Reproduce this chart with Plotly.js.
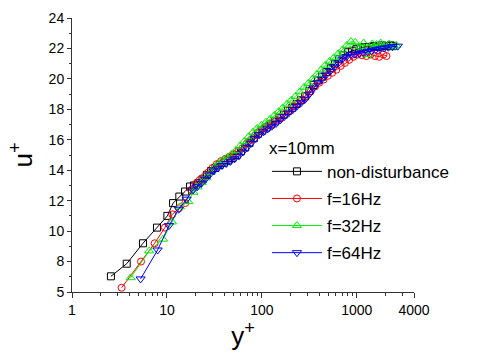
<!DOCTYPE html>
<html>
<head>
<meta charset="utf-8">
<script src="https://cdn.plot.ly/plotly-3.0.1.min.js"></script>
<style>html,body{margin:0;padding:0;background:#fff;}#chart{width:479px;height:357px;}</style>
</head>
<body>
<div id="chart"></div>
<script>
// Series names
const seriesNames = ["non-disturbance", "f=16Hz", "f=32Hz", "f=64Hz"];
const legendTitle = "x=10mm";

// non-disturbance
const yPlusBlack = [2.57,3.77,5.59,7.85,10.1,11.6,13.5,15.5,17.5,19.3,21.4,23.7,26.3,29.2,32.4,35.9,39.8,44.2,49.0,54.3,60.3,66.8,74.1,82.2,91.2,101,112,124,138,153,170,188,209,232,257,285,316,351,389,432,479,531,589,653,724,804,891,989,1096,1216,1349,1496,1660,1841,2042,2265,2400];
const uPlusBlack = [7.03,7.86,9.2,10.23,11.0,11.84,12.27,12.6,12.93,13.0,13.15,13.4,13.7,13.95,14.15,14.35,14.5,14.65,14.8,15.0,15.25,15.5,15.8,16.1,16.4,16.6,16.8,17.0,17.2,17.45,17.65,17.9,18.1,18.35,18.6,18.85,19.2,19.6,19.9,20.15,20.45,20.7,21.0,21.3,21.55,21.75,21.85,21.95,22.05,22.1,22.1,22.15,22.1,22.2,22.15,22.2,22.15];

// f=16Hz
const yPlusRed = [3.33,5.33,7.42,9.5,11.4,13.4,15.6,18.0,20.0,22.1,24.5,27.2,30.2,33.5,37.2,41.2,45.7,50.7,56.2,62.4,69.2,76.7,85.1,94.4,105,116,129,143,159,176,195,216,240,266,295,327,363,402,446,495,549,609,676,749,831,922,1023,1135,1259,1396,1549,1718,1906,2050];
const uPlusRed = [6.28,8.0,9.2,10.23,11.1,11.5,11.84,12.7,13.1,13.35,13.55,13.85,14.15,14.4,14.6,14.75,14.9,15.05,15.25,15.45,15.75,16.0,16.3,16.55,16.75,16.95,17.1,17.3,17.5,17.7,17.95,18.2,18.4,18.65,18.9,19.2,19.5,19.75,19.95,20.2,20.4,20.6,20.85,21.05,21.25,21.45,21.6,21.55,21.5,21.6,21.5,21.45,21.6,21.5];

// f=32Hz
const yPlusGreen = [4.15,6.5,9.07,11.3,13.7,16.8,19.0,21.0,23.3,25.8,28.6,31.7,35.2,39.0,43.3,48.0,53.2,59.0,65.4,72.5,80.4,89.2,98.9,110,122,135,150,166,184,204,226,251,278,308,342,379,420,466,517,573,636,705,782,867,961,1066,1182,1311,1454,1612,1788,1983,2199,2439,2600];
const uPlusGreen = [6.94,8.7,9.47,10.6,11.6,11.94,12.55,12.9,13.2,13.5,13.85,14.2,14.45,14.65,14.85,15.05,15.3,15.6,15.9,16.2,16.5,16.75,16.95,17.15,17.35,17.6,17.85,18.1,18.35,18.6,18.85,19.15,19.45,19.7,20.0,20.3,20.6,20.9,21.15,21.4,21.65,21.9,22.2,22.45,22.4,22.1,22.35,21.6,22.3,22.25,22.35,22.2,22.3,22.1,22.2];

// f=64Hz
const yPlusBlue = [5.28,7.98,10.5,13.3,16.1,18.9,20.8,23.0,25.4,28.1,31.1,34.4,38.0,42.0,46.5,51.4,56.9,62.9,69.6,77.0,85.2,94.2,104,115,127,141,156,172,191,211,233,258,285,316,349,386,427,472,522,578,639,707,782,865,957,1058,1171,1295,1432,1584,1752,1938,2144,2371,2700];
const uPlusBlue = [6.86,8.76,10.36,11.44,12.1,12.71,12.91,13.14,13.41,13.7,13.95,14.14,14.31,14.44,14.58,14.75,14.93,15.2,15.48,15.77,16.1,16.33,16.52,16.71,16.89,17.07,17.3,17.52,17.75,17.97,18.2,18.43,18.66,19.0,19.4,19.75,19.98,20.24,20.5,20.78,21.05,21.3,21.47,21.6,21.62,21.68,21.74,21.8,21.86,21.92,21.98,22.03,22.08,22.12,22.15];

// Tick labels
const xTickVals = [1, 10, 100, 1000, 4000];
const xTickText = ["1", "10", "100", "1000", "4000"];
const xMinorVals = [2,3,4,5,6,7,8,9,20,30,40,50,60,70,80,90,200,300,400,500,600,700,800,900,2000,3000];
const yTickVals = [6, 8, 10, 12, 14, 16, 18, 20, 22, 24];
const yTickText = ["5", "8", "10", "12", "14", "16", "18", "20", "22", "24"];
const yMinorVals = [7, 9, 11, 13, 15, 17, 19, 21, 23];

const FONT = "Liberation Sans, Arial, sans-serif";

function mk(x, y, name, color, symbol, size, grp) {
  return {
    x: x, y: y, name: name, type: "scatter", mode: "lines+markers", legendgroup: grp,
    line: {color: color, width: 1},
    marker: {symbol: symbol, size: size, color: color, line: {color: color, width: 1}}
  };
}

const data = [
  mk(yPlusBlack, uPlusBlack, seriesNames[0], "#000000", "square-open", 7, "a"),
  mk(yPlusRed, uPlusRed, seriesNames[1], "#ff0000", "circle-open", 7, "b"),
  mk(yPlusGreen, uPlusGreen, seriesNames[2], "#00ee00", "triangle-up-open", 8, "c"),
  mk(yPlusBlue, uPlusBlue, seriesNames[3], "#0000ff", "triangle-down-open", 8, "d")
];

const layout = {
  width: 479, height: 357,
  margin: {l: 72, r: 65, t: 18, b: 65},
  paper_bgcolor: "#ffffff", plot_bgcolor: "#ffffff",
  font: {family: FONT, color: "#000", size: 14},
  showlegend: true,
  legend: {
    x: 0.57, y: 0.585, xanchor: "left", yanchor: "top",
    bgcolor: "rgba(0,0,0,0)",
    font: {family: FONT, size: 17, color: "#000"},
    title: {text: legendTitle, font: {family: FONT, size: 17, color: "#000"}},
    itemwidth: 50, tracegroupgap: 2
  },
  xaxis: {
    type: "log", range: [0, Math.log10(4000)],
    tickmode: "array", tickvals: xTickVals, ticktext: xTickText,
    ticks: "outside", ticklen: 5, tickcolor: "#333", tickwidth: 1,
    showline: true, linecolor: "#333", linewidth: 1,
    showgrid: false, zeroline: false, mirror: false,
    tickfont: {family: FONT, size: 14, color: "#000"},
    minor: {tickmode: "array", tickvals: xMinorVals, ticks: "outside", ticklen: 3, tickcolor: "#333", showgrid: false},
    title: {text: "y<sup>+</sup>", font: {family: FONT, size: 26, color: "#000"}, standoff: 6}
  },
  yaxis: {
    range: [6, 24],
    tickmode: "array", tickvals: yTickVals, ticktext: yTickText,
    ticks: "outside", ticklen: 4, tickcolor: "#333", tickwidth: 1,
    showline: true, linecolor: "#333", linewidth: 1,
    showgrid: false, zeroline: false, mirror: false,
    tickfont: {family: FONT, size: 14, color: "#000"},
    minor: {tickmode: "array", tickvals: yMinorVals, ticks: "outside", ticklen: 2, tickcolor: "#333", showgrid: false},
    title: {text: "u<sup>+</sup>", font: {family: FONT, size: 26, color: "#000"}, standoff: 8}
  }
};

Plotly.newPlot("chart", data, layout, {displayModeBar: false, staticPlot: true});
</script>
</body>
</html>
